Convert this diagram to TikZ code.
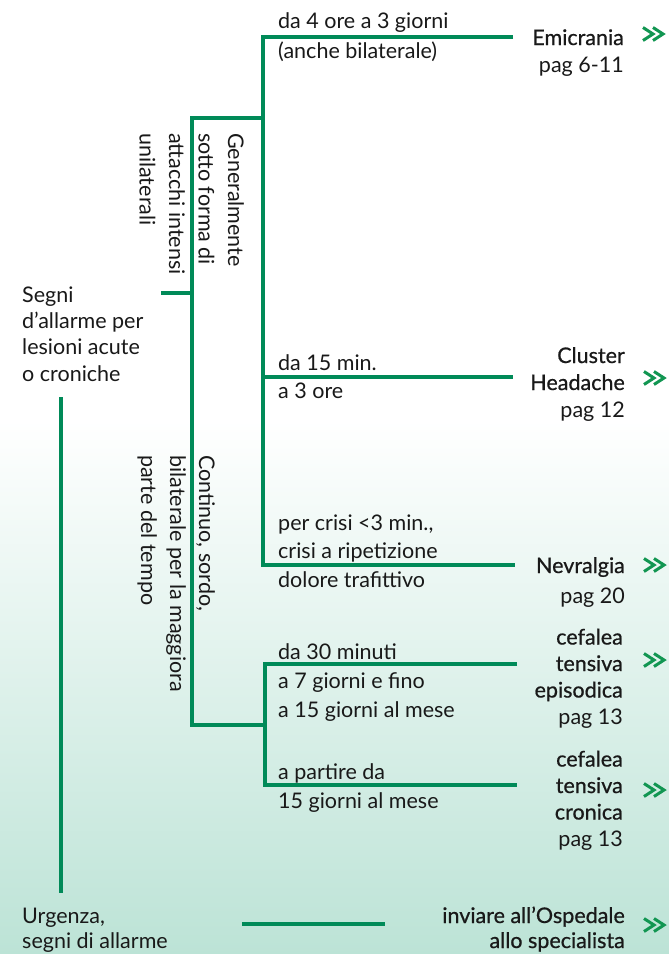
\documentclass[tikz,border=0pt]{standalone}
\usepackage{fontspec}
\setmainfont{Lato}
\newfontfamily\medfont[FakeBold=0.7]{Lato}
\definecolor{lgreen}{RGB}{0,138,88}
\definecolor{agreen}{RGB}{18,150,82}
\definecolor{mint}{RGB}{188,227,214}
\definecolor{ink}{RGB}{25,25,25}
\begin{document}
\begin{tikzpicture}[x=1pt,y=-1pt,
  conn/.style={draw=lgreen, line width=3.2pt, line join=miter, line cap=butt},
  ltxt/.style={inner sep=0pt, anchor=base west, align=left, text=ink},
  rtxt/.style={inner sep=0pt, anchor=base east, align=right, text=ink},
  vtxt/.style={inner sep=0pt, anchor=base west, align=left, text=ink, rotate=-90},
  dchev/.pic={\draw[agreen, line width=3pt, line join=miter, line cap=butt]
     (-12,-6.5) -- (-2,0) -- (-12,6.5) (-2,-6.5) -- (8,0) -- (-2,6.5);}]
\useasboundingbox (0,0) rectangle (669,954);
\fill[white] (0,0) rectangle (669,954);
\shade[top color=white, bottom color=mint] (0,420) rectangle (669,954);

% text nodes (anchor base = baseline of the last line)
\node[ltxt, font=\fontsize{21.5}{26.3}\selectfont] (segni) at (22,381) {Segni\\d’allarme per\\lesioni acute\\o croniche};
\node[vtxt, font=\fontsize{21.5}{29.5}\selectfont] (gen) at (139.5,133) {Generalmente\\sotto forma di\\attacchi intensi\\unilaterali};
\node[vtxt, font=\fontsize{21.5}{29}\selectfont] (cont) at (141,455) {Continuo, sordo,\\bilaterale per la maggiora\\parte del tempo};

\node[ltxt, font=\fontsize{21.5}{30}\selectfont] (emiT) at (278,58) {da 4 ore a 3 giorni\\(anche bilaterale)};
\node[rtxt, font=\fontsize{21.5}{27}\selectfont] (emiR) at (624,72) {{\medfont Emicrania}\\pag 6-11};

\node[ltxt, font=\fontsize{21.5}{28}\selectfont] (cluT) at (278,398) {da 15 min.\\a 3 ore};
\node[rtxt, font=\fontsize{21.5}{27}\selectfont] (cluR) at (625,417) {{\medfont Cluster}\\{\medfont Headache}\\pag 12};

\node[ltxt, font=\fontsize{21.5}{28.5}\selectfont] (nevT) at (278,587) {per crisi <3 min.,\\crisi a ripetizione\\dolore trafittivo};
\node[rtxt, font=\fontsize{21.5}{30}\selectfont] (nevR) at (625,603) {{\medfont Nevralgia}\\pag 20};

\node[ltxt, font=\fontsize{21.5}{29}\selectfont] (epiT) at (278,717) {da 30 minuti\\a 7 giorni e fino\\a 15 giorni al mese};
\node[rtxt, font=\fontsize{21.5}{26.5}\selectfont] (epiR) at (623,724) {{\medfont cefalea}\\{\medfont tensiva}\\{\medfont episodica}\\pag 13};

\node[ltxt, font=\fontsize{21.5}{29}\selectfont] (croT) at (278,808) {a partire da\\15 giorni al mese};
\node[rtxt, font=\fontsize{21.5}{26.5}\selectfont] (croR) at (623,846) {{\medfont cefalea}\\{\medfont tensiva}\\{\medfont cronica}\\pag 13};

\node[ltxt, font=\fontsize{21.5}{25}\selectfont] (urg) at (22,948) {Urgenza,\\segni di allarme};
\node[rtxt, font=\fontsize{21.5}{25}\selectfont] (osp) at (625,948) {{\medfont inviare all’Ospedale}\\{\medfont allo specialista}};

% connector coordinates
\coordinate (sA) at (161,293);
\coordinate (jA) at (192,293);
\coordinate (aTop) at (192,118);
\coordinate (aBot) at (192,725);
\coordinate (bTop) at (263,118);
\coordinate (b1) at (263,37);
\coordinate (e1) at (513,37);
\coordinate (b2) at (263,377);
\coordinate (e2) at (513,377);
\coordinate (b3) at (263,565);
\coordinate (e3) at (515,565);
\coordinate (cMid) at (265,725);
\coordinate (c1) at (265,664);
\coordinate (f1) at (517,664);
\coordinate (c2) at (265,785);
\coordinate (f2) at (517,785);
\coordinate (vTop) at (61,397);
\coordinate (vBot) at (61,893);
\coordinate (hL) at (242,924);
\coordinate (hR) at (385,924);

\draw[conn] (sA) -- (jA);
\draw[conn] (bTop) -- (aTop) -- (aBot) -- (cMid);
\draw[conn] (e1) -- (b1) -- (b3) -- (e3);
\draw[conn] (b2) -- (e2);
\draw[conn] (f1) -- (c1) -- (c2) -- (f2);
\draw[conn] (vTop) -- (vBot);
\draw[conn] (hL) -- (hR);

% double chevrons
\pic at (655,34) {dchev};
\pic at (656,378) {dchev};
\pic at (656,565) {dchev};
\pic at (656,660) {dchev};
\pic at (656,790) {dchev};
\pic at (656,925) {dchev};
\end{tikzpicture}
\end{document}
